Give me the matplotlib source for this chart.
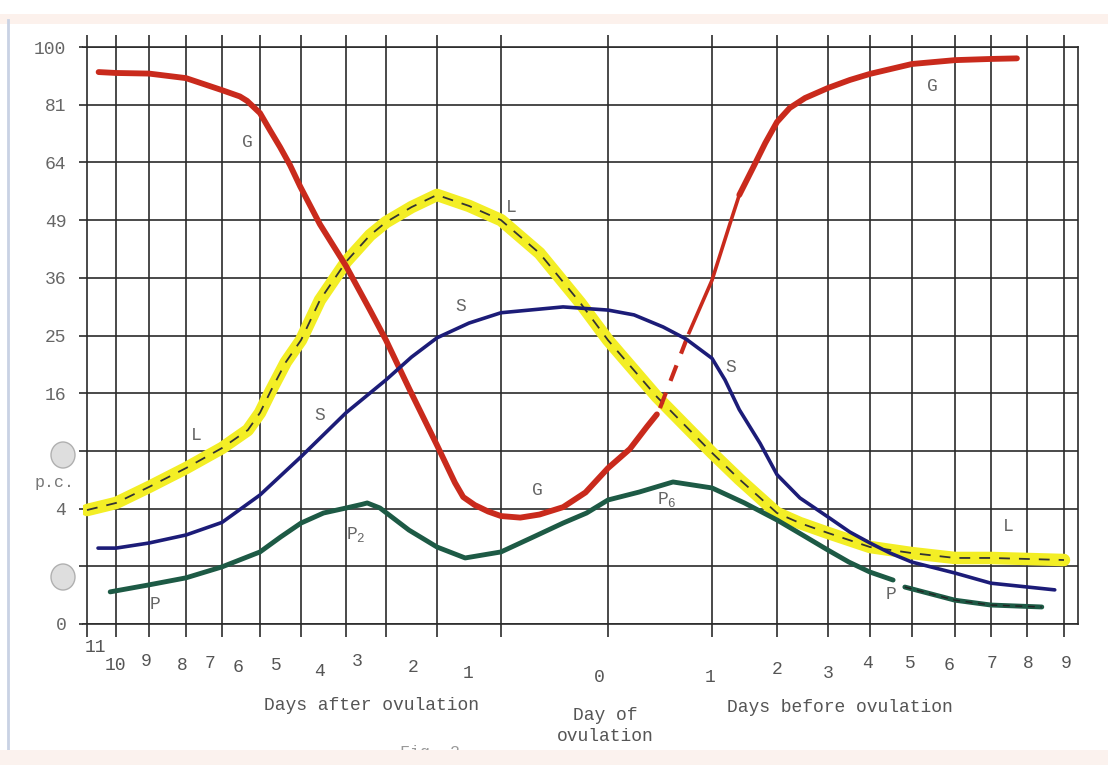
import numpy as np
import matplotlib
matplotlib.use('Agg')
import matplotlib.pyplot as plt
from matplotlib.patches import Rectangle, Ellipse
from matplotlib.lines import Line2D
import matplotlib.transforms as mtransforms

# day axis: negative = days after ovulation (left), positive = days before ovulation (right)
days = [-11, -10, -9, -8, -7, -6, -5, -4, -3, -2, -1, 0, 1, 2, 3, 4, 5, 6, 7, 8, 9]
day_labels = ['11', '10', '9', '8', '7', '6', '5', '4', '3', '2', '1',
              '0', '1', '2', '3', '4', '5', '6', '7', '8', '9']
pc_ticks = [100, 81, 64, 49, 36, 25, 16, 9, 4, 1, 0]
pc_labels = ['100', '81', '64', '49', '36', '25', '16', '', '4', '', '0']

# G curve
g_days = [-10.6, -10, -9, -8, -7, -6.53, -6.34, -6, -5.76, -5.51, -5.27, -5.02, -4.58, -4,
          -3.4, -3, -2.53, -2, -1.72, -1.59, -1.41, -1.2, -1, -0.82, -0.64, -0.42, -0.21,
          0, 0.21, 0.375, 0.47]
g_vals = [91.5, 91.2, 91.0, 89.5, 85.6, 83.6, 82.2, 78.4, 73.3, 68.3, 63.3, 57.5, 48.0, 38.5,
          29.6, 24.2, 16.4, 9.6, 6.0, 4.84, 4.25, 3.8, 3.5, 3.4, 3.6, 4.1, 5.2,
          7.3, 9.2, 11.7, 13.2]
g_gap_days = [0.5, 0.78]
g_gap_vals = [14.0, 25.5]
g_rise_days = [0.78, 1, 1.28, 1.42]
g_rise_vals = [25.5, 35.5, 48.3, 55.3]
g_top_days = [1.42, 1.63, 1.82, 2, 2.25, 2.55, 3, 3.52, 4, 5, 6, 7, 7.72]
g_top_vals = [55.3, 62.5, 69.5, 75.7, 80.0, 83.1, 86.3, 88.9, 90.9, 94.2, 95.5, 95.9, 96.1]

# L curve
l_days = [-11, -10, -9, -8, -7, -6.32, -6, -5.73, -5.37, -5, -4.58, -4, -3.4, -3, -2.5,
          -2, -1.5, -1, -0.64, -0.26, 0, 0.47, 1, 1.42, 2, 2.45, 3, 4, 5, 6, 7, 9]
l_vals = [3.9, 4.4, 5.64, 7.3, 9.3, 11.3, 13.4, 16.4, 20.6, 24.2, 31.5, 39.4, 45.4, 48.5,
          52.2, 55.3, 52.5, 49.0, 41.3, 31.0, 24.2, 15.5, 8.8, 6.3, 3.7, 3.06, 2.49, 1.78,
          1.51, 1.31, 1.31, 1.23]

# S curve
s_days = [-10.62, -10, -9, -8, -7, -6, -5, -4, -3, -2.5, -2, -1.5, -1, -0.42, 0, 0.25,
          0.53, 0.75, 1, 1.2, 1.42, 1.74, 2, 2.45, 3, 3.52, 4, 4.48, 5, 6, 7, 8.75]
s_vals = [1.73, 1.73, 1.97, 2.38, 3.1, 5.0, 8.4, 13.4, 17.9, 21.4, 24.6, 27.2, 29.1, 30.2,
          29.6, 28.7, 26.5, 24.4, 21.2, 17.9, 13.8, 9.8, 6.7, 4.77, 3.44, 2.54, 1.97, 1.51,
          1.15, 0.78, 0.5, 0.35]

# P curve (two pieces, gap at the right-hand "P")
p_days = [-10.2, -9, -8, -7, -6, -5.5, -5, -4.5, -4, -3.6, -3.47, -3.15, -2.55, -2,
          -1.56, -1, -0.7, -0.42, -0.2, 0, 0.3, 0.625, 1, 1.5, 2, 2.5, 3, 3.5, 4, 4.55]
p_vals = [0.31, 0.46, 0.64, 0.98, 1.56, 2.27, 3.06, 3.7, 4.04, 4.3, 4.4, 4.04, 2.65, 1.78,
          1.31, 1.56, 2.27, 3.06, 3.7, 4.62, 5.23, 6.06, 5.56, 4.4, 3.25, 2.38, 1.64, 1.15,
          0.81, 0.58]
p2_days = [4.83, 6, 7, 8.4]
p2_vals = [0.41, 0.17, 0.108, 0.087]

# non-uniform day spacing of the printed grid
scale_days = [-11.15] + days + [9.38]
scale_pos = [83, 87, 116, 149, 186, 222, 260, 301, 346, 386, 437, 501,
             608, 712, 777, 828, 870, 912, 955, 991, 1027, 1064, 1078]


def fwd(d):
    return np.interp(d, scale_days, scale_pos)


def inv(p):
    return np.interp(p, scale_pos, scale_days)


def sq_fwd(v):
    return np.sqrt(np.clip(v, 0, None))


W, H = 1108, 765
fig = plt.figure(figsize=(W / 100, H / 100), dpi=100)
fig.patch.set_facecolor('white')

ax = fig.add_axes([83 / W, 1 - 624 / H, (1078 - 83) / W, (624 - 47) / H])
ax.set_xscale('function', functions=(fwd, inv))
ax.set_yscale('function', functions=(sq_fwd, np.square))
ax.set_xlim(scale_days[0], scale_days[-1])
ax.set_ylim(0, 100)

ink = '#2b2b2b'
ax.set_xticks(days)
ax.set_xticklabels([])
ax.set_yticks(pc_ticks)
ax.set_yticklabels(pc_labels, fontfamily='Liberation Mono', fontsize=13, color='#666666')
ax.grid(True, color=ink, linewidth=1.2)
ax.tick_params(axis='x', which='major', direction='out', length=9, width=1.2, color=ink,
               top=True)
ax.tick_params(axis='y', which='major', direction='out', length=3, width=1.2, color=ink, pad=9)
ax.spines['left'].set_visible(False)
for s in ['top', 'bottom', 'right']:
    ax.spines[s].set_color(ink)
    ax.spines[s].set_linewidth(1.2)
ax.set_axisbelow(True)

red = '#c92a1c'
# curves
ax.plot(l_days, l_vals, color='#f3ee25', lw=9, solid_capstyle='round', solid_joinstyle='round',
        zorder=3)
ax.plot(l_days, l_vals, color='#333333', lw=1.3, dashes=(6, 5), zorder=4)

ax.plot(g_days, g_vals, color=red, lw=4.2, solid_capstyle='round', solid_joinstyle='round',
        zorder=5)
ax.plot(g_gap_days, g_gap_vals, color=red, lw=3, dashes=(4, 3), zorder=5)
ax.plot(g_rise_days, g_rise_vals, color=red, lw=2.6, solid_joinstyle='round', zorder=5)
ax.plot(g_top_days, g_top_vals, color=red, lw=4.2, solid_capstyle='round',
        solid_joinstyle='round', zorder=5)

ax.plot(p_days, p_vals, color='#1d5a45', lw=3.5, solid_capstyle='round',
        solid_joinstyle='round', zorder=6)
ax.plot(p2_days, p2_vals, color='#1d5a45', lw=3.5, solid_capstyle='round',
        solid_joinstyle='round', zorder=6)
ax.plot(p2_days, p2_vals, color='#222222', lw=1, dashes=(5, 4), zorder=6)

ax.plot(s_days, s_vals, color='#1c1c78', lw=2.6, solid_capstyle='round',
        solid_joinstyle='round', zorder=7)

# curve letters
lab = dict(fontfamily='Liberation Mono', fontsize=13, color='#666666', ha='center',
           va='center', zorder=8)
ax.text(-6.32, 69.5, 'G', **lab)
ax.text(-0.66, 5.39, 'G', **lab)
ax.text(5.47, 86.9, 'G', **lab)
ax.text(-7.72, 10.7, 'L', **lab)
ax.text(-0.9, 52, 'L', **lab)
ax.text(7.47, 2.83, 'L', **lab)
ax.text(-4.58, 13.0, 'S', **lab)
ax.text(-1.63, 30.2, 'S', **lab)
ax.text(1.29, 19.7, 'S', **lab)
ax.text(-8.84, 0.12, 'P', **lab)
ax.text(-3.75, 2.38, r'P$_\mathregular{2}$', **lab)
ax.text(0.57, 4.62, r'P$_\mathregular{6}$', **lab)
ax.text(4.5, 0.27, 'P', **lab)

# typed day numbers (typed slightly off the grid on the left half)
label_pos = [-10.72, -10.03, -9.1, -8.1, -7.33, -6.58, -5.6, -4.58, -3.72, -2.47, -1.52,
             -0.08, 0.98, 2, 3, 3.95, 4.97, 5.85, 7.02, 8.03, 9.05]
label_drop = [24, 41, 38, 41, 39, 44, 41, 48, 38, 44, 50, 53, 53, 46, 49, 40, 40, 41, 40, 40, 39]
trans = mtransforms.blended_transform_factory(ax.transData, ax.transAxes)
for x, t, dy in zip(label_pos, day_labels, label_drop):
    ax.annotate(t, xy=(x, 0), xycoords=trans, xytext=(0, -dy * 0.72),
                textcoords='offset points', ha='center', va='center',
                fontfamily='Liberation Mono', fontsize=13, color='#555555',
                annotation_clip=False)

txt = dict(fontfamily='Liberation Mono', fontsize=13, color='#555555', ha='center', va='center')
fig.text(372 / W, 1 - 705 / H, 'Days after ovulation', **txt)
fig.text(605 / W, 1 - 726 / H, 'Day of\novulation', linespacing=1.3, **txt)
fig.text(840 / W, 1 - 708 / H, 'Days before ovulation', **txt)
fig.text(55 / W, 1 - 482 / H, 'p.c.', fontfamily='Liberation Mono', fontsize=12,
         color='#777777', ha='center', va='center')
fig.text(430 / W, 1 - 752 / H, 'Fig. 2', fontfamily='Liberation Mono', fontsize=12,
         color='#999999', ha='center', va='center')

# scan artefacts: punched holes, page edge, tinted bands
for cy in [455, 577]:
    fig.add_artist(Ellipse((63 / W, 1 - cy / H), 24 / W, 26 / H, facecolor='#dedede',
                           edgecolor='#b0b0b0', lw=1, transform=fig.transFigure))
fig.add_artist(Rectangle((0, 1 - 24 / H), 1, 10 / H, facecolor='#fcf1ec', edgecolor='none',
                         transform=fig.transFigure))
fig.add_artist(Rectangle((0, 0), 1, 15 / H, facecolor='#fbf2ee', edgecolor='none',
                         transform=fig.transFigure, zorder=5))
fig.add_artist(Line2D([8 / W, 8 / W], [0, 1 - 20 / H], color='#c9d2e4', lw=2,
                      transform=fig.transFigure))

plt.savefig('out.png', dpi=100, facecolor='white')
